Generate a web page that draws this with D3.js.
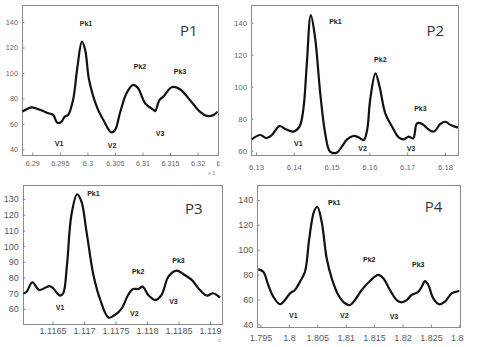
<!DOCTYPE html>
<html><head><meta charset="utf-8">
<script src="https://cdn.jsdelivr.net/npm/d3@7"></script>
<style>
html,body{margin:0;padding:0;background:#fff;}
svg{display:block;}
</style></head>
<body>
<svg id="chart" width="480" height="347"></svg>
<script>
// ---------- DATA ----------
const labelNames = ["Pk1", "Pk2", "Pk3", "V1", "V2", "V3"];

// P1
const p1X = [6.28818,6.28989,6.2914,6.2929,6.2938,6.2945,6.2952,6.2959,6.2965,6.2974,6.2982,6.2990,6.2996,6.3003,6.3017,6.3029,6.3043,6.3050,6.3059,6.3071,6.3083,6.3092,6.3105,6.3120,6.3123,6.3131,6.3138,6.3153,6.3168,6.3186,6.3204,6.3217,6.3229,6.3236];
const p1Y = [69.6,73,71,68.3,67,61,61.2,65.7,67,78.8,105,124.7,118,94.6,73.5,63,53.4,55,68.3,84,90.6,88,76,71,70,78.8,81.4,88.8,87.2,78.8,69.6,66.2,67,69.6];
const p1XTicks = [6.29, 6.295, 6.3, 6.305, 6.31, 6.315, 6.32, 6.325];
const p1YTicks = [40, 60, 80, 100, 120, 140];
const p1LabelX = [6.29975, 6.30955, 6.3168, 6.29485, 6.30447, 6.31318];
const p1LabelY = [138.7, 104.8, 100.9, 44.2, 42.6, 52];

// P2
const p2X = [6.1289,6.1311,6.1328,6.1342,6.1362,6.1377,6.1399,6.1415,6.1425,6.1434,6.1445,6.1456,6.1470,6.1483,6.1496,6.1514,6.1527,6.1541,6.1558,6.1571,6.1585,6.1594,6.1602,6.1616,6.1627,6.1642,6.1660,6.1677,6.1691,6.1704,6.1716,6.1726,6.1740,6.1753,6.1770,6.1788,6.1801,6.1815,6.1834];
const p2Y = [67.1,69.8,67.9,69.8,75.4,73.6,71.9,75,85.4,112.5,144.8,131.3,95.9,70.9,59.4,58.8,62.5,67.1,69.2,68.4,66.7,72.9,91.7,108.4,100,83.4,75,68.4,67.1,68.8,67.7,77.1,76.7,74,71.9,76.7,78.1,76,74.4];
const p2XTicks = [6.13, 6.14, 6.15, 6.16, 6.17, 6.18];
const p2YTicks = [60, 80, 100, 120, 140];
const p2LabelX = [6.1510, 6.1629, 6.1735, 6.1412, 6.1582, 6.1710];
const p2LabelY = [140.6, 116.7, 86.1, 64.2, 61.5, 61.5];

// P3
const p3X = [1.11604,1.11609,1.11618,1.11629,1.11645,1.11651,1.11662,1.11667,1.11673,1.11680,1.11689,1.11696,1.11704,1.11715,1.11725,1.11739,1.11749,1.11760,1.11770,1.11778,1.11786,1.11793,1.11802,1.11813,1.11823,1.11834,1.11847,1.11858,1.11871,1.11884,1.11895,1.11905,1.11916];
const p3Y = [70,71,77,72.1,74.6,73.2,68.5,70,88,119.8,133,128.3,109.2,81.6,66.8,54.5,56.2,60.4,68.9,72.7,72.7,74.2,68.9,65.7,68.9,80.6,84.4,82.1,78.5,72.1,68.5,70,67.2];
const p3XTicks = [1.1165, 1.117, 1.1175, 1.118, 1.1185, 1.119];
const p3YTicks = [60, 70, 80, 90, 100, 110, 120, 130];
const p3LabelX = [1.11715, 1.11786, 1.11850, 1.11662, 1.11780, 1.11842];
const p3LabelY = [133.6, 83.7, 90.6, 60.8, 57.3, 64.6];

// P4
const p4X = [1.79461,1.79549,1.79637,1.79725,1.79843,1.79931,1.80019,1.80107,1.80195,1.80283,1.80359,1.80442,1.80500,1.80577,1.80665,1.80754,1.80870,1.80988,1.81076,1.81164,1.81282,1.81428,1.81574,1.81662,1.81780,1.81898,1.81986,1.82074,1.82162,1.82278,1.82338,1.82396,1.82454,1.82542,1.82648,1.82748,1.82866,1.83000];
const p4Y = [84.2,82.3,71.6,62.2,56.1,59.5,64.9,67.6,74.3,82.3,109.2,130.6,134.6,122.5,93.1,77,63.6,56.9,55.5,59.5,67.6,74.8,79.7,77,67.6,59.5,57.7,59.5,63.6,66.2,70.2,74.8,71.6,60.9,56.1,58.2,64.9,66.8];
const p4XTicks = [1.795, 1.8, 1.805, 1.81, 1.815, 1.82, 1.825, 1.83];
const p4YTicks = [40, 60, 80, 100, 120, 140];
const p4LabelX = [1.80799, 1.81415, 1.82278, 1.80077, 1.80975, 1.81850];
const p4LabelY = [138.1, 92.3, 88.3, 46.9, 46.9, 46.1];

const panelTitles = ["P1", "P2", "P3", "P4"];

// ---------- LAYOUT ----------
const panels = [
  {title: panelTitles[0], xs: p1X, ys: p1Y, xt: p1XTicks, yt: p1YTicks, lx: p1LabelX, ly: p1LabelY,
   xDom: [6.28813, 6.32376], yDom: [35.5, 153.4], box: [22, 5, 218.3, 155],
   clip: [0, 0, 219.5, 175], fs: 7.3, xOff: 8, col: "#6a6a6a", tx: 0.85, ty: 0.17, exp: {t: "x 1", x: 208, y: 175}},
  {title: panelTitles[1], xs: p2X, ys: p2Y, xt: p2XTicks, yt: p2YTicks, lx: p2LabelX, ly: p2LabelY,
   xDom: [6.12868, 6.18344], yDom: [57.3, 151.1], box: [251, 5, 458, 155],
   clip: [225, 0, 255, 175], fs: 7.8, xOff: 12, col: "#6a6a6a", tx: 0.89, ty: 0.17, exp: null},
  {title: panelTitles[2], xs: p3X, ys: p3Y, xt: p3XTicks, yt: p3YTicks, lx: p3LabelX, ly: p3LabelY,
   xDom: [1.116027, 1.119186], yDom: [50.45, 138.9], box: [22.7, 185, 221.7, 324],
   clip: [0, 175, 235, 172], fs: 9, xOff: 7, col: "#595959", tx: 0.86, ty: 0.17, exp: {t: "c", x: 218, y: 342}},
  {title: panelTitles[3], xs: p4X, ys: p4Y, xt: p4XTicks, yt: p4YTicks, lx: p4LabelX, ly: p4LabelY,
   xDom: [1.794437, 1.830123], yDom: [37.8, 152.1], box: [257.3, 185, 460, 327],
   clip: [235, 175, 229, 172], fs: 9, xOff: 11, col: "#595959", tx: 0.87, ty: 0.15, exp: null}
];

const svg = d3.select("#chart");
const defs = svg.append("defs");

panels.forEach((p, i) => {
  const [x0, y0, x1, y1] = p.box;
  defs.append("clipPath").attr("id", "pc" + i)
    .append("rect").attr("x", p.clip[0]).attr("y", p.clip[1]).attr("width", p.clip[2]).attr("height", p.clip[3]);
  defs.append("clipPath").attr("id", "plot" + i)
    .append("rect").attr("x", x0).attr("y", y0).attr("width", x1 - x0).attr("height", y1 - y0);

  const g = svg.append("g").attr("clip-path", `url(#pc${i})`);
  const x = d3.scaleLinear().domain(p.xDom).range([x0, x1]);
  const y = d3.scaleLinear().domain(p.yDom).range([y1, y0]);

  // box (crisp)
  const bx0 = Math.round(x0) + 0.5, by0 = Math.round(y0) + 0.5;
  const bx1 = Math.round(x1) + 0.5, by1 = Math.round(y1) + 0.5;
  g.append("rect").attr("x", bx0).attr("y", by0).attr("width", bx1 - bx0).attr("height", by1 - by0)
    .attr("fill", "#fff").attr("stroke", "#8a8a8a").attr("stroke-width", 1);

  // x axis
  const xa = d3.axisBottom(x).tickValues(p.xt).tickSize(-2.5).tickPadding(p.xOff - 2)
    .tickFormat(d => String(+d.toFixed(4)));
  const gx = g.append("g").attr("transform", `translate(0,${y1})`).call(xa);
  gx.select(".domain").remove();
  gx.selectAll("line").attr("stroke", "#888");
  gx.selectAll("text").attr("fill", p.col).attr("font-size", p.fs)
    .attr("font-family", "Liberation Sans, Arial, sans-serif").attr("dy", "0.35em").attr("y", p.xOff);
  gx.selectAll(".tick").filter(d => d > p.xDom[1] + 1e-9).select("line").remove();

  // y axis
  const ya = d3.axisLeft(y).tickValues(p.yt).tickSize(-2.5).tickPadding(4);
  const gy = g.append("g").attr("transform", `translate(${x0},0)`).call(ya);
  gy.select(".domain").remove();
  gy.selectAll("line").attr("stroke", "#888");
  gy.selectAll("text").attr("fill", p.col).attr("font-size", p.fs)
    .attr("font-family", "Liberation Sans, Arial, sans-serif");

  // curve
  const pts = p.xs.map((v, k) => [v, p.ys[k]]);
  const line = d3.line().x(d => x(d[0])).y(d => y(d[1])).curve(d3.curveCatmullRom.alpha(0.5));
  g.append("path").attr("d", line(pts)).attr("fill", "none").attr("stroke", "#111")
    .attr("stroke-width", 2.2).attr("stroke-linejoin", "round").attr("clip-path", `url(#plot${i})`);

  // peak / valley labels
  labelNames.forEach((n, k) => {
    g.append("text").attr("x", x(p.lx[k])).attr("y", y(p.ly[k])).attr("dy", "0.35em")
      .attr("text-anchor", "middle").attr("font-size", 7).attr("font-weight", "bold")
      .attr("font-family", "Liberation Sans, Arial, sans-serif").attr("fill", "#222").text(n);
  });

  // panel title
  g.append("text").attr("x", x0 + p.tx * (x1 - x0)).attr("y", y0 + p.ty * (y1 - y0)).attr("dy", "0.35em")
    .attr("text-anchor", "middle").attr("font-size", 15)
    .attr("font-family", "Open Sans, Liberation Sans, sans-serif").attr("fill", "#333").text(p.title);

  if (p.exp) {
    g.append("text").attr("x", p.exp.x).attr("y", p.exp.y).attr("font-size", 5.5)
      .attr("font-family", "Liberation Sans, Arial, sans-serif").attr("fill", "#888").text(p.exp.t);
  }
});
</script>
</body></html>
